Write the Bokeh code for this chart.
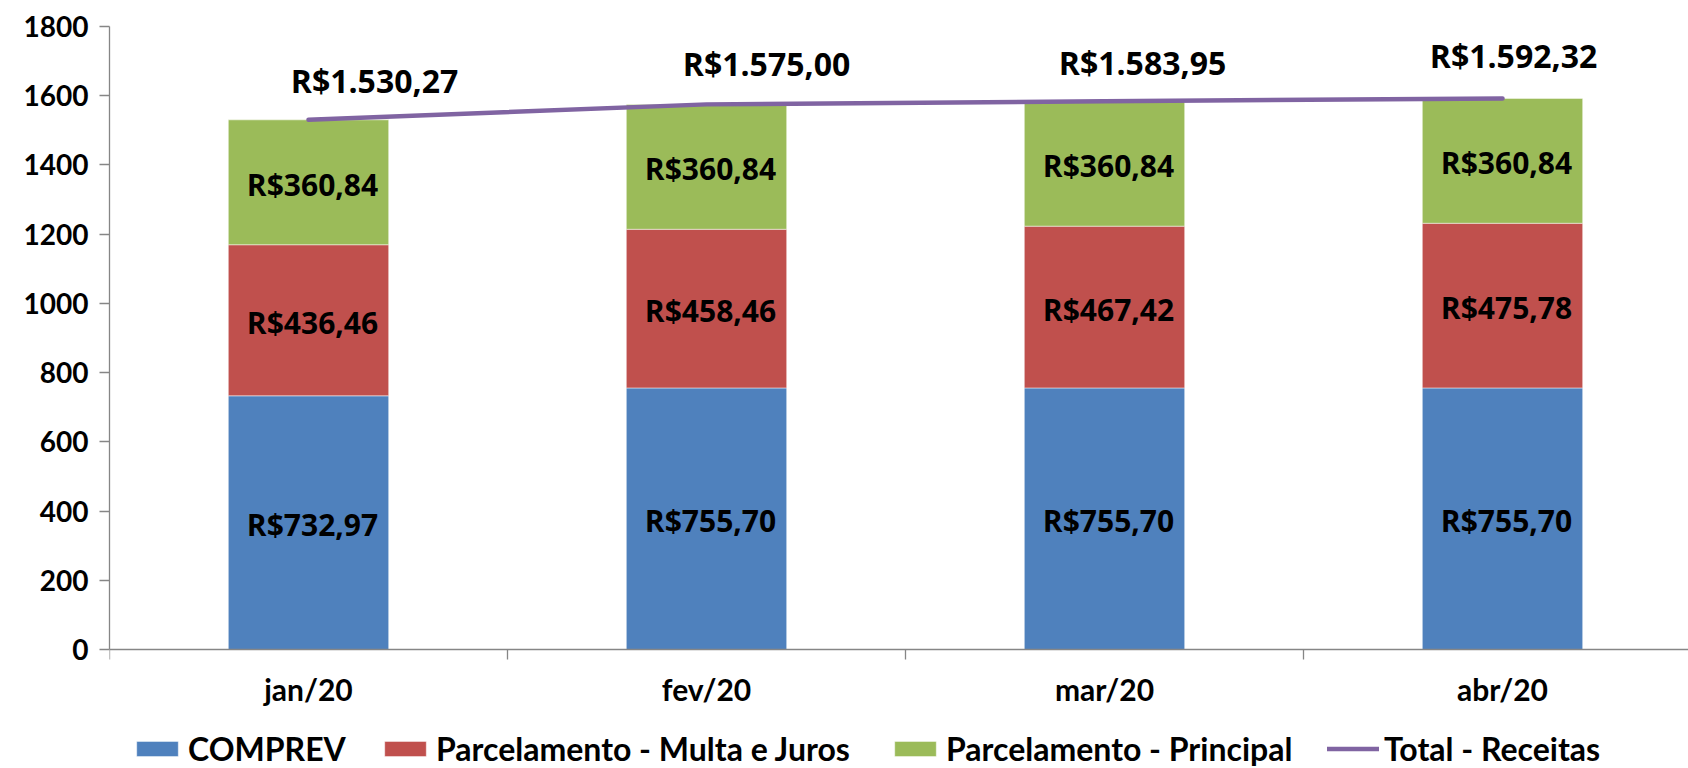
from bokeh.plotting import figure
from bokeh.models import Range1d, FixedTicker, ColumnDataSource, Legend, LegendItem
from bokeh.core.properties import value
from bokeh.embed import file_html
from bokeh.resources import INLINE

# ---- data ----
categories = ["jan/20", "fev/20", "mar/20", "abr/20"]
comprev = [732.97, 755.70, 755.70, 755.70]
multa_juros = [436.46, 458.46, 467.42, 475.78]
principal = [360.84, 360.84, 360.84, 360.84]
total = [1530.27, 1575.00, 1583.95, 1592.32]
y_ticks = [0, 200, 400, 600, 800, 1000, 1200, 1400, 1600, 1800]
series_names = ["COMPREV", "Parcelamento - Multa e Juros", "Parcelamento - Principal", "Total - Receitas"]

# ---- styling / placement ----
colors = ["#4F81BD", "#C0504D", "#9BBB59", "#8064A2"]
total_label_dx = [66, 60, 38, 11]
total_label_dy = [-39, -41, -39, -43]
AXIS_GRAY = "#868686"
LABEL_FONT = "Open Sans"
AXIS_FONT = "Lato"


def brl(v):
    s = f"{v:,.2f}"
    s = s.replace(",", "X").replace(".", ",").replace("X", ".")
    return "R$" + s


xs = [i + 0.5 for i in range(len(categories))]
b1 = [0.0] * len(categories)
t1 = [b + v for b, v in zip(b1, comprev)]
t2 = [b + v for b, v in zip(t1, multa_juros)]
t3 = [b + v for b, v in zip(t2, principal)]

src = ColumnDataSource(dict(
    x=xs, b1=b1, t1=t1, t2=t2, t3=t3,
    m1=[(a + b) / 2 for a, b in zip(b1, t1)],
    m2=[(a + b) / 2 for a, b in zip(t1, t2)],
    m3=[(a + b) / 2 for a, b in zip(t2, t3)],
    l1=[brl(v) for v in comprev],
    l2=[brl(v) for v in multa_juros],
    l3=[brl(v) for v in principal],
    tot=total,
    ltot=[brl(v) for v in total],
    dx=total_label_dx,
    dy=total_label_dy,
))

W, H = 1688, 768
left, top = 109, 26
zero_px = 649          # page y of value 0
cat_px = 398.0
frame_w = W - left
ymax = 1800.0
px_per_unit = (zero_px - top) / ymax
ymin = -(H - zero_px) / px_per_unit

p = figure(width=W, height=H, output_backend="svg", toolbar_location=None,
           x_range=Range1d(0, frame_w / cat_px), y_range=Range1d(ymin, ymax),
           min_border_left=left, min_border_right=0, min_border_top=top,
           min_border_bottom=0)
p.outline_line_color = None
p.xgrid.visible = False
p.ygrid.visible = False
p.background_fill_color = "white"
p.border_fill_color = "white"

bw = 0.403
rb = p.vbar(x="x", bottom="b1", top="t1", width=bw, source=src, fill_color=colors[0],
            line_color="white", line_width=0.8, line_alpha=0.6)
rr = p.vbar(x="x", bottom="t1", top="t2", width=bw, source=src, fill_color=colors[1],
            line_color="white", line_width=0.8, line_alpha=0.6)
rg = p.vbar(x="x", bottom="t2", top="t3", width=bw, source=src, fill_color=colors[2],
            line_color="white", line_width=0.8, line_alpha=0.6)
rl = p.line(x="x", y="tot", source=src, line_color=colors[3], line_width=4.5, line_cap="round")

lab_kw = dict(text_font=value(LABEL_FONT), text_font_style="bold", text_font_size="30px",
              text_color="black", text_align="center", text_baseline="middle", x_offset=4, y_offset=2)
p.text(x="x", y="m1", text="l1", source=src, **lab_kw)
p.text(x="x", y="m2", text="l2", source=src, **lab_kw)
p.text(x="x", y="m3", text="l3", source=src, **lab_kw)
p.text(x="x", y="tot", text="ltot", source=src, x_offset="dx", y_offset="dy",
       text_font=value(LABEL_FONT), text_font_style="bold", text_font_size="32px",
       text_color="black", text_align="center", text_baseline="middle")

# axes
xa = p.xaxis[0]
xa.fixed_location = 0
xa.ticker = FixedTicker(ticks=xs, minor_ticks=list(range(len(categories) + 1)))
xa.major_label_overrides = {x: c for x, c in zip(xs, categories)}
xa.major_tick_out = 0
xa.major_tick_in = 0
xa.minor_tick_out = 10
xa.minor_tick_in = 0
xa.minor_tick_line_color = AXIS_GRAY
xa.minor_tick_line_width = 1.3
xa.axis_line_color = AXIS_GRAY
xa.axis_line_width = 1.3
xa.major_label_text_font = AXIS_FONT
xa.major_label_text_font_style = "bold"
xa.major_label_text_font_size = "30px"
xa.major_label_text_color = "black"
xa.major_label_standoff = 11

ya = p.yaxis[0]
ya.bounds = (0, ymax)
ya.ticker = FixedTicker(ticks=y_ticks, minor_ticks=[])
ya.major_tick_out = 10
ya.major_tick_in = 0
ya.major_tick_line_color = AXIS_GRAY
ya.major_tick_line_width = 1.3
ya.axis_line_color = AXIS_GRAY
ya.axis_line_width = 1.3
ya.major_label_text_font = AXIS_FONT
ya.major_label_text_font_style = "bold"
ya.major_label_text_font_size = "28px"
ya.major_label_text_color = "black"
ya.major_label_standoff = 11

# legends (one per item, positioned in px relative to the frame's bottom-left)
leg_x = [22, 270, 780, 1218]
renderers = [rb, rr, rg, rl]
for name, r, lx in zip(series_names, renderers, leg_x):
    leg = Legend(items=[LegendItem(label=name, renderers=[r])], location=(lx, 0),
                 orientation="horizontal", padding=0, margin=0, spacing=0,
                 border_line_color=None, background_fill_alpha=0,
                 glyph_width=52, glyph_height=19, label_height=19, label_standoff=5,
                 label_text_font=AXIS_FONT, label_text_font_style="bold",
                 label_text_font_size="32px", label_text_color="black",
                 label_text_baseline="middle")
    p.add_layout(leg)

open("out.html", "w").write(file_html(p, INLINE))
